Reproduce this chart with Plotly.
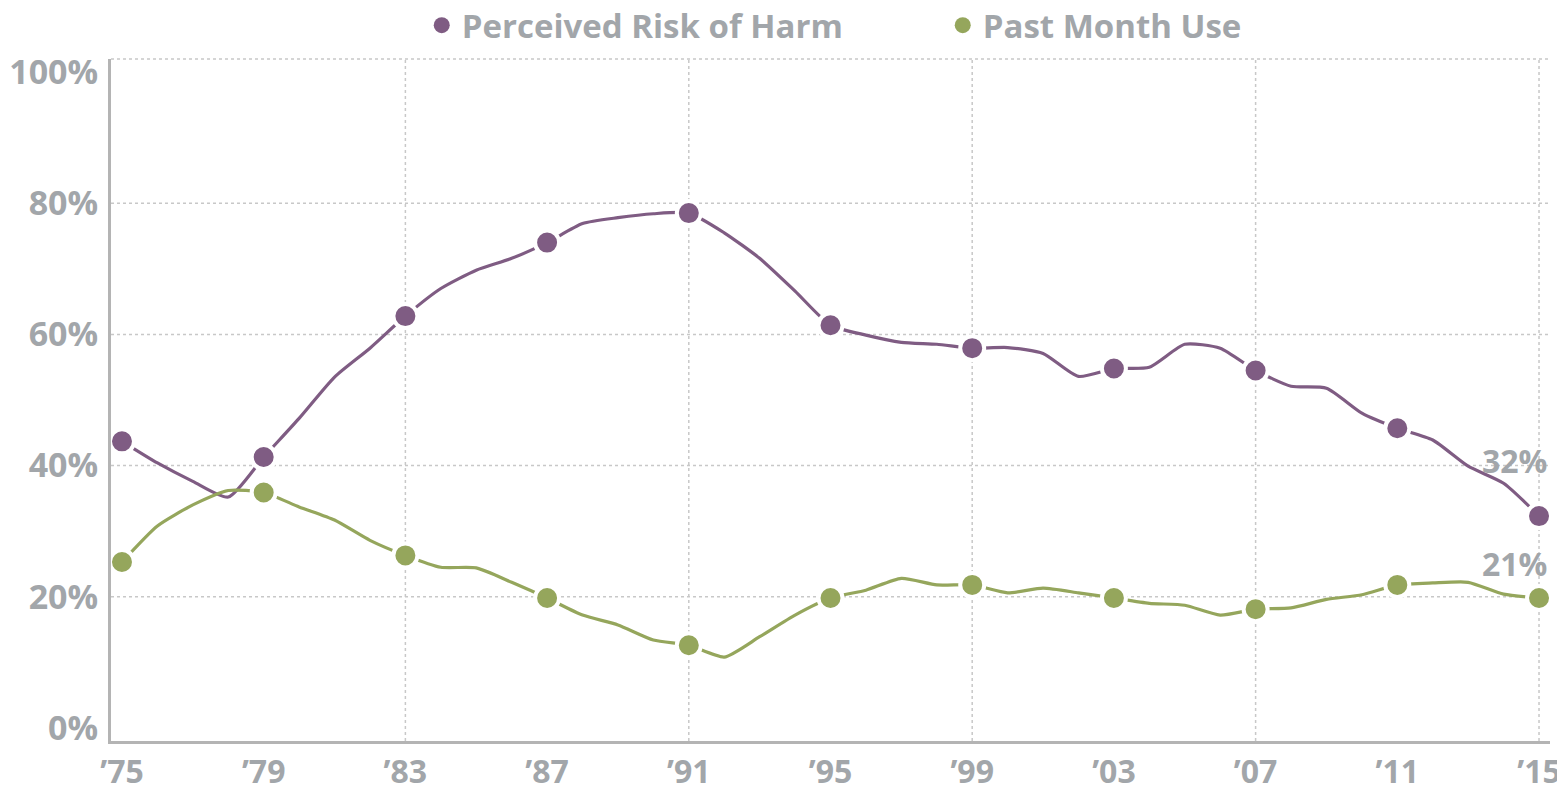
import plotly.graph_objects as go

years = list(range(1975, 2016))
risk = [43.7, 40.4, 37.6, 35.2, 41.3, 47.2, 53.5, 57.9, 62.8, 67.0,
        69.8, 71.6, 74.0, 76.9, 77.8, 78.4, 78.5, 75.5, 71.6, 66.6,
        61.4, 59.9, 58.8, 58.5, 57.9, 58.0, 57.1, 53.6, 54.8, 55.0,
        58.5, 57.9, 54.5, 52.1, 51.8, 48.0, 45.7, 43.9, 39.9, 37.3, 32.3]
use = [25.3, 30.8, 34.0, 36.2, 35.9, 33.7, 31.7, 28.6, 26.3, 24.5,
       24.4, 22.2, 19.8, 17.2, 15.7, 13.4, 12.6, 10.8, 13.9, 17.2,
       19.8, 21.0, 22.8, 21.8, 21.8, 20.6, 21.3, 20.6, 19.8, 19.0,
       18.7, 17.2, 18.1, 18.3, 19.6, 20.3, 21.8, 22.1, 22.2, 20.4, 19.8]
marker_years = list(range(1975, 2016, 4))
tick_labels = ["’75", "’79", "’83", "’87", "’91", "’95", "’99", "’03", "’07", "’11", "’15"]
y_ticks = [0, 20, 40, 60, 80, 100]
y_tick_labels = ["0%", "20%", "40%", "60%", "80%", "100%"]
grid_years = [1983, 1991, 1999, 2007, 2015]
grid_values = [20, 40, 60, 80]
end_labels = ["32%", "21%"]

series = [
    ("Perceived Risk of Harm", risk, "#7f5c83"),
    ("Past Month Use", use, "#95a65c"),
]

FONT = "Open Sans"
GRAY = "#a2a6aa"
GRID = "#c8c8c8"

fig = go.Figure()
for name, vals, color in series:
    fig.add_trace(go.Scatter(
        x=years, y=vals, mode="lines", line=dict(color=color, width=3.2, shape="spline", smoothing=0.6),
        showlegend=False, hoverinfo="skip"))
for name, vals, color in series:
    mv = [vals[years.index(yr)] for yr in marker_years]
    fig.add_trace(go.Scatter(
        x=marker_years, y=mv, mode="markers", name=name, showlegend=False,
        marker=dict(color=color, size=24, line=dict(color="white", width=4))))
# legend-only entries
for name, vals, color in series:
    fig.add_trace(go.Scatter(
        x=[None], y=[None], mode="markers", name=name,
        marker=dict(color=color, size=18)))

# gridlines
for gy in grid_years:
    fig.add_shape(type="line", xref="x", yref="paper", x0=gy, x1=gy, y0=0, y1=1,
                  line=dict(color=GRID, width=1.5, dash="dot"), layer="below")
for gv in grid_values:
    fig.add_shape(type="line", xref="paper", yref="y", x0=0, x1=1, y0=gv, y1=gv,
                  line=dict(color=GRID, width=1.5, dash="dot"), layer="below")
fig.add_shape(type="line", xref="paper", yref="paper", x0=0, x1=1, y0=1, y1=1,
              line=dict(color=GRID, width=1.5, dash="dot"), layer="below")

shifts = [56, 35]
for (name, vals, color), txt, ys in zip(series, end_labels, shifts):
    fig.add_annotation(x=years[-1], y=vals[-1], text=txt, showarrow=False,
                       xanchor="right", xshift=10, yshift=ys,
                       font=dict(family=FONT, size=32, color=GRAY, weight=700))

fig.update_layout(
    width=1557, height=782,
    margin=dict(l=103, r=15, t=51, b=49, autoexpand=False),
    paper_bgcolor="white", plot_bgcolor="white",
    font=dict(family=FONT, color=GRAY, size=31, weight=700),
    legend=dict(orientation="h", x=0.578, xanchor="center", yref="container", y=0.978, yanchor="middle",
                font=dict(family=FONT, size=33, color=GRAY, weight=700),
                itemsizing="trace", traceorder="normal",
                entrywidth=476, entrywidthmode="pixels"),
    xaxis=dict(range=[1974.69, 2015.31], tickvals=marker_years, ticktext=tick_labels,
               showgrid=False, zeroline=False, showline=True, linecolor="#b4b4b4", linewidth=3,
               ticks="", ticklabelstandoff=1,
               tickfont=dict(family=FONT, size=32, color=GRAY, weight=700)),
    yaxis=dict(range=[-2, 102], tickvals=y_ticks, ticktext=y_tick_labels,
               showgrid=False, zeroline=False, showline=True, linecolor="#b4b4b4", linewidth=3,
               ticks="", ticklabelstandoff=3,
               tickfont=dict(family=FONT, size=34, color=GRAY, weight=700)),
)

fig.write_html("out.html")
